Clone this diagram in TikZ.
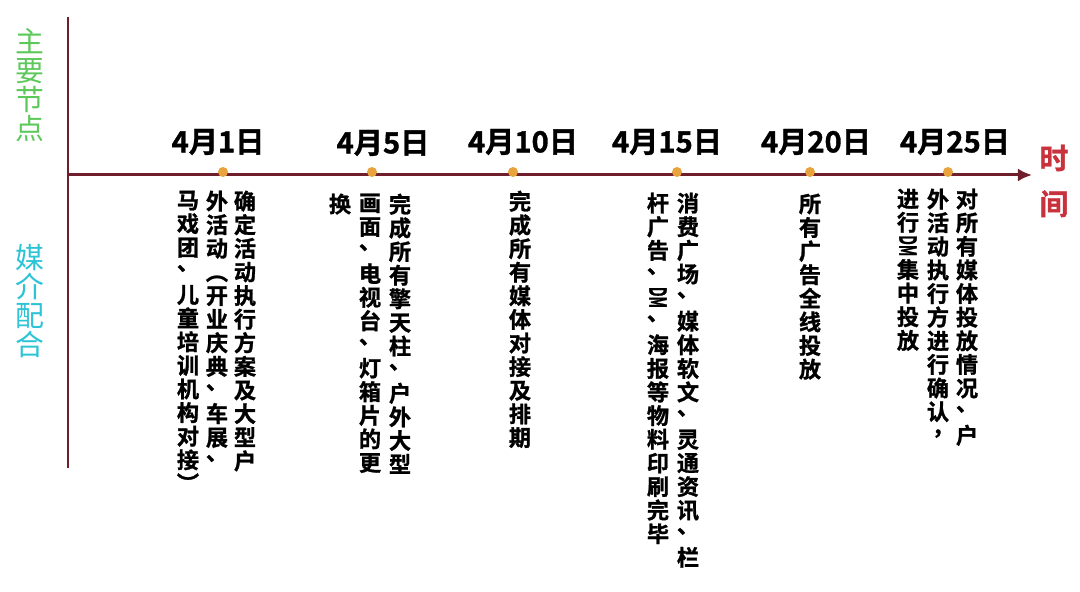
\documentclass[tikz,border=0pt]{standalone}
\usepackage{fontspec}
\usepackage{graphicx}
\usetikzlibrary{arrows.meta}
\usetikzlibrary{positioning}
\newfontfamily\cjk{Noto Sans CJK SC}[BoldFont=Noto Sans CJK SC Bold, BoldFeatures={FakeBold=1.2}]
\definecolor{axisred}{HTML}{6E1F2B}
\definecolor{dotorange}{HTML}{E8A33C}
\definecolor{keygreen}{HTML}{5CC85A}
\definecolor{mediacyan}{HTML}{2CC3D6}
\definecolor{timered}{HTML}{C8323C}
% vertical text: one character per line
\def\vend{}
\def\vendmark{\vend}
\def\vfirst#1{#1\vnext}
\def\vnext#1{\def\vtmp{#1}\ifx\vtmp\vendmark\else\\#1\expandafter\vnext\fi}
\newcommand\vcol[1]{\vfirst#1\vend}
\newcommand\dm{\raisebox{0.86em}{\rotatebox{-90}{\resizebox{0.95em}{0.78em}{DM}}}}
\newcommand\dun{\smash{\raisebox{0.4em}{、}}}
\newcommand\dou{\smash{\raisebox{0.4em}{\hspace*{0.45em}，}}}
\begin{document}
\begin{tikzpicture}[x=0.1mm, y=-0.1mm,
    date/.style={font=\cjk\bfseries\fontsize{8.3pt}{9pt}\selectfont, inner sep=0},
    dot/.style={circle, fill=dotorange, minimum size=1mm, inner sep=0},
    col/.style={anchor=north, align=center, inner sep=0, font=\cjk\bfseries\fontsize{6.3pt}{6.72pt}\selectfont},
    side/.style={align=center, inner sep=0, font=\cjk\fontsize{8.2pt}{8.3pt}\selectfont}]
      \useasboundingbox (0,0) rectangle (1080,592);
      \coordinate (origin) at (68,175);
      \coordinate (ytop) at (68,17);
      \coordinate (ybot) at (68,468);
      \coordinate (xend) at (1032,175);
      \draw[axisred, line width=0.85pt] (ybot) -- (ytop);
      \draw[axisred, line width=0.85pt, -{Latex[length=1.4mm, width=1.3mm]}] (origin) -- (xend);
      \node[side, keygreen] (keynode) at (30,85){\vcol{主要节点}};
      \node[side, mediacyan] (media) at (30,301){\vcol{媒介配合}};
      \node[side, timered, font=\cjk\bfseries\fontsize{8.2pt}{13pt}\selectfont] (time) at (1054,181){\vcol{时间}};
      % 4月1日
      \node[dot] (dot1) at (223,172){};
      \node[date] (date1) at (218,142){4月1日};
      \node[col] (c1a) at (245,190){\vcol{确定活动执行方案及大型户}};
      \node[col] (c1b) at (217,190){\vcol{外活动︵开业庆典\dun 车展\dun}};
      \node[col] (c1c) at (188,190){\vcol{马戏团\dun 儿童培训机构对接︶}};
      % 4月5日
      \node[dot] (dot5) at (372,172){};
      \node[date] (date5) at (383,143){4月5日};
      \node[col] (c5a) at (400,193){\vcol{完成所有擎天柱\dun 户外大型}};
      \node[col] (c5b) at (370,193){\vcol{画面\dun 电视台\dun 灯箱片的更}};
      \node[col] (c5c) at (340,193){\vcol{换}};
      % 4月10日
      \node[dot] (dot10) at (513,172){};
      \node[date] (date10) at (523,142){4月10日};
      \node[col] (c10a) at (520,190){\vcol{完成所有媒体对接及排期}};
      % 4月15日
      \node[dot] (dot15) at (677,172){};
      \node[date] (date15) at (667,142){4月15日};
      \node[col] (c15a) at (688,192){\vcol{消费广场\dun 媒体软文\dun 灵通资讯\dun 栏}};
      \node[col] (c15b) at (658,192){\vcol{杆广告\dun\dm\dun 海报等物料印刷完毕}};
      % 4月20日
      \node[dot] (dot20) at (810,172){};
      \node[date] (date20) at (816,142){4月20日};
      \node[col] (c20a) at (810,193){\vcol{所有广告全线投放}};
      % 4月25日
      \node[dot] (dot25) at (948,172){};
      \node[date] (date25) at (955,142){4月25日};
      \node[col] (c25a) at (967,188){\vcol{对所有媒体投放情况\dun 户}};
      \node[col] (c25b) at (938,188){\vcol{外活动执行方进行确认\dou}};
      \node[col] (c25c) at (908,188){\vcol{进行\dm 集中投放}};
    \end{tikzpicture}
\end{document}
